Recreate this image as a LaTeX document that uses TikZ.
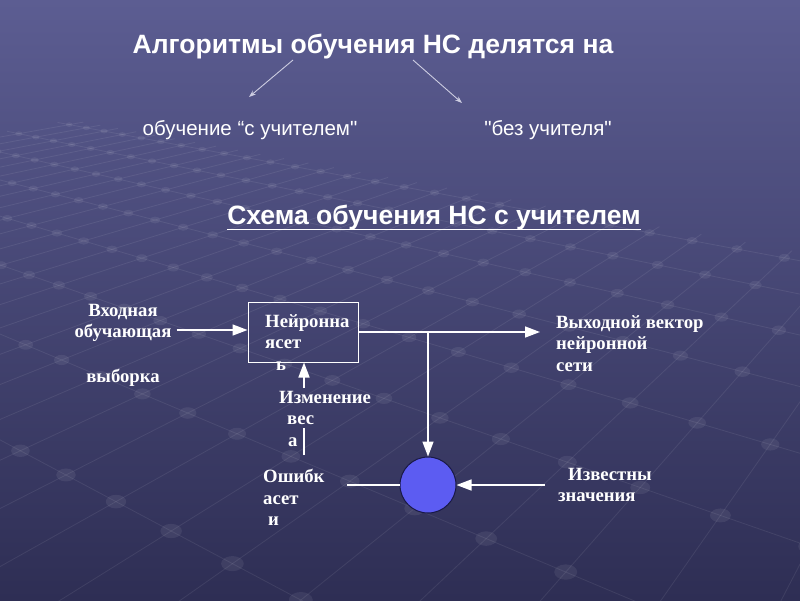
\documentclass[tikz,border=0pt]{standalone}
\usepackage{fontspec}
\setmainfont{Liberation Serif}
\newfontfamily\arialf{Liberation Sans}
\usetikzlibrary{arrows.meta,shapes.geometric,calc}
\definecolor{bgtop}{RGB}{92,93,146}
\definecolor{bgbot}{RGB}{46,46,84}
\definecolor{thinc}{RGB}{205,205,225}
\definecolor{sumfill}{RGB}{92,92,242}
\definecolor{sumdraw}{RGB}{25,25,70}
% projection of a point (u,v) of the background floor grid
\newcommand{\gridpt}[3]{%
  \pgfmathsetmacro{\gX}{-0.88-0.9393*(#1)+0.3405*(#2)}%
  \pgfmathsetmacro{\gZ}{1+0.3405*(#1)+0.9393*(#2)}%
  \pgfmathsetmacro{\gx}{886+665*\gX/\gZ}%
  \pgfmathsetmacro{\gy}{-65+665/\gZ}%
  \coordinate (#3) at (\gx,\gy);}
\begin{document}
\begin{tikzpicture}[x=1pt,y=-1pt,
  every node/.style={text=white, inner sep=0pt},
  titletext/.style={font=\arialf\bfseries\fontsize{26.5}{30}\selectfont},
  schematext/.style={font=\arialf\bfseries\fontsize{26.5}{30}\selectfont},
  subtext/.style={font=\arialf\fontsize{20.5}{24}\selectfont},
  lbl/.style={font=\bfseries\fontsize{18.7}{21.5}\selectfont, align=left, anchor=north west},
  thinarrow/.style={draw=thinc, line width=0.9pt, -{Stealth[length=7pt,width=5pt]}},
  mainarrow/.style={draw=white, line width=1.5pt, -{Triangle[length=15pt,width=11pt]}},
  plainline/.style={draw=white, line width=1.5pt},
  gridline/.style={draw=white, draw opacity=0.08, line width=0.8pt},
  griddot/.style={fill=white, fill opacity=0.07},
]
\useasboundingbox (0,0) rectangle (800,600);
\shade[top color=bgtop, bottom color=bgbot] (0,0) rectangle (800,600);

% faint perspective floor grid of the background
\begin{scope}
\clip (0,0) rectangle (800,600);
\foreach \i in {-5,...,24} {
  \gridpt{\i*0.17}{-0.35}{ga}
  \gridpt{\i*0.17}{1.24}{gb}
  \draw[gridline] (ga) -- (gb);
}
\foreach \j in {-2,...,7} {
  \gridpt{-0.9}{\j*0.17}{ga}
  \gridpt{4.2}{\j*0.17}{gb}
  \draw[gridline] (ga) -- (gb);
}
\foreach \i in {-5,...,24} {
  \foreach \j in {-2,...,7} {
    \gridpt{\i*0.17}{\j*0.17}{gd}
    \pgfmathsetmacro{\rx}{12/\gZ}
    \pgfmathsetmacro{\ry}{8/\gZ}
    \fill[griddot] (gd) ellipse [x radius=\rx pt, y radius=\ry pt];
  }
}
\end{scope}

% headings
\node[titletext, anchor=base] (title) at (373,53) {Алгоритмы обучения НС делятся на};
\node[subtext, anchor=base] (sup) at (250,135) {обучение “с учителем"};
\node[subtext, anchor=base] (unsup) at (548,135) {"без учителя"};
\coordinate (a1s) at (293,60);
\coordinate (a1e) at (249,97);
\coordinate (a2s) at (413,60);
\coordinate (a2e) at (462,103);
\draw[thinarrow] (a1s) -- (a1e);
\draw[thinarrow] (a2s) -- (a2e);

\node[schematext, anchor=base] (schema) at (434,224) {Схема обучения НС с учителем};
\draw[white, line width=1.8pt] ($(schema.base west)+(0,5.5)$) -- ($(schema.base east)+(0,5.5)$);

% diagram
\node[lbl, align=center, anchor=north] (inp) at (123,304) {Входная\\обучающая\\[23.5pt]выборка};
\node[draw=white, line width=1pt, minimum width=110pt, minimum height=60pt] (nn) at (303,332) {};
\node[lbl] (nntxt) at (265,314) {Нейронна\\ясет\\\hspace*{11pt}ь};
\node[lbl] (out) at (556,315) {Выходной вектор\\нейронной\\сети};
\node[lbl] (izm) at (279,391) {Изменение\\\hspace*{8pt}вес\\\hspace*{9pt}а};
\node[lbl] (err) at (263,469) {Ошибк\\асет\\\hspace*{5pt}и};
\node[lbl] (known) at (558,468) {\hspace*{10pt}Известны\\значения};
\node[circle, draw=sumdraw, line width=1pt, fill=sumfill, minimum size=56pt] (sum) at (428,485) {};

\draw[mainarrow] ($(inp.east |- nn.west)+(5,-2)$) -- ($(nn.west)+(0,-2)$);
\draw[mainarrow] (nn.east) -- ($(out.west |- nn.east)+(-16,0)$);
\draw[mainarrow] (nn.east -| sum.north) -- (sum.north);
\draw[mainarrow] ($(known.west |- sum.east)+(-13,0)$) -- (sum.east);
\draw[plainline] (sum.west) -- ($(err.east |- sum.west)+(22,0)$);
\coordinate (izmbot) at (304,455);
\coordinate (izmmid) at (304,428);
\coordinate (izmtop) at (304,388);
\draw[plainline] (izmbot) -- (izmmid);
\draw[mainarrow] (izmtop) -- (nn.south -| izmtop);
\end{tikzpicture}
\end{document}
